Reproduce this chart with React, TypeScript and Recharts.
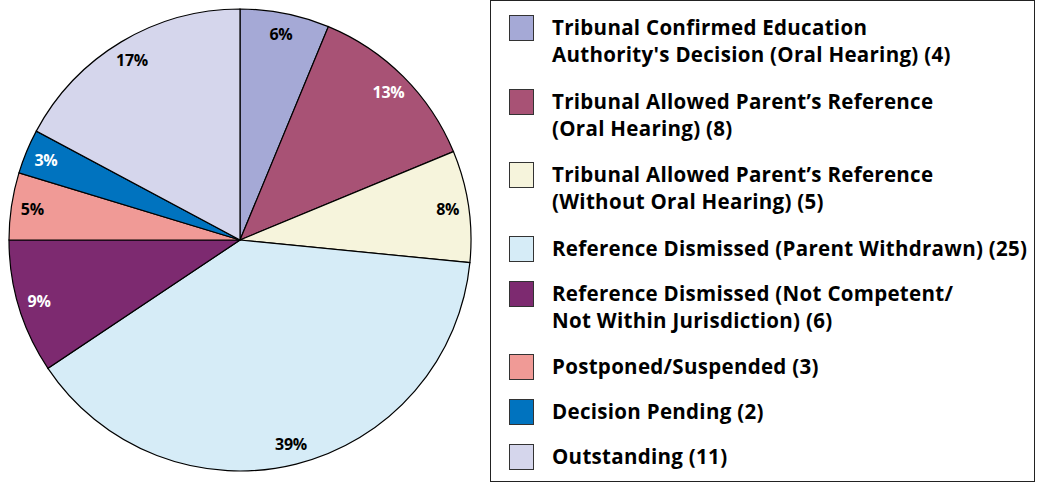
import { PieChart, Pie, Cell, Legend } from 'recharts'

const categories = [
  "Tribunal Confirmed Education Authority's Decision (Oral Hearing)",
  'Tribunal Allowed Parent’s Reference (Oral Hearing)',
  'Tribunal Allowed Parent’s Reference (Without Oral Hearing)',
  'Reference Dismissed (Parent Withdrawn)',
  'Reference Dismissed (Not Competent/ Not Within Jurisdiction)',
  'Postponed/Suspended',
  'Decision Pending',
  'Outstanding',
]

// legend text split into lines as in the original
const legendLines = [
  ['Tribunal Confirmed Education', "Authority's Decision (Oral Hearing) (4)"],
  ['Tribunal Allowed Parent’s Reference', '(Oral Hearing) (8)'],
  ['Tribunal Allowed Parent’s Reference', '(Without Oral Hearing) (5)'],
  ['Reference Dismissed (Parent Withdrawn) (25)'],
  ['Reference Dismissed (Not Competent/', 'Not Within Jurisdiction) (6)'],
  ['Postponed/Suspended (3)'],
  ['Decision Pending (2)'],
  ['Outstanding (11)'],
]

const counts = [4, 8, 5, 25, 6, 3, 2, 11]

const colors = [
  '#a5a9d6',
  '#a85275',
  '#f6f4dc',
  '#d6ecf7',
  '#7d2a70',
  '#f09a96',
  '#0073bf',
  '#d5d6ec',
]

const labelColors = ['#000', '#fff', '#000', '#000', '#fff', '#000', '#fff', '#000']

const data = categories.map((name, i) => ({ name, value: counts[i] }))
const total = counts.reduce((a, b) => a + b, 0)

const FONT = '"Open Sans", "Noto Sans", sans-serif'
const RADIAN = Math.PI / 180

function renderLabel(props: any) {
  const { cx, cy, midAngle, outerRadius, value, index } = props
  const r = outerRadius - 21
  const x = cx + r * Math.cos(-midAngle * RADIAN)
  const y = cy + r * Math.sin(-midAngle * RADIAN)
  return (
    <text
      x={x}
      y={y}
      fill={labelColors[index]}
      textAnchor="middle"
      dominantBaseline="central"
      fontFamily={FONT}
      fontWeight={700}
      fontSize={16}
      letterSpacing={-0.3}
    >
      {Math.round((value / total) * 100)}%
    </text>
  )
}

function LegendBox() {
  return (
    <div
      style={{
        width: 545,
        height: 482,
        border: '1px solid #222',
        boxSizing: 'border-box',
        fontFamily: FONT,
        fontWeight: 700,
        fontSize: 20.5,
        letterSpacing: 0.3,
        color: '#000',
        paddingTop: 14,
        paddingLeft: 18,
        whiteSpace: 'nowrap',
      }}
    >
      {legendLines.map((lines, i) => (
        <div key={i} style={{ display: 'flex', marginBottom: lines.length === 2 ? 20.6 : 18.8 }}>
          <div
            style={{
              width: 25,
              height: 26,
              background: colors[i],
              border: '1px solid #333',
              boxSizing: 'border-box',
              flexShrink: 0,
            }}
          />
          <div style={{ marginLeft: 18, lineHeight: '27px', marginTop: -1 }}>
            {lines.map((l, j) => (
              <div key={j}>{l}</div>
            ))}
          </div>
        </div>
      ))}
    </div>
  )
}

export default function App() {
  return (
    <div style={{ position: 'absolute', left: 0, top: 0, background: '#fff' }}>
      <PieChart width={1037} height={483} margin={{ top: 0, right: 0, bottom: 0, left: 0 }}>
        <Pie
          data={data}
          dataKey="value"
          nameKey="name"
          cx={240}
          cy={240}
          outerRadius={231}
          startAngle={90}
          endAngle={-270}
          stroke="#000"
          strokeWidth={1.2}
          label={renderLabel}
          labelLine={false}
          isAnimationActive={false}
        >
          {data.map((d, i) => (
            <Cell key={d.name} fill={colors[i]} />
          ))}
        </Pie>
        <Legend
          layout="vertical"
          align="right"
          verticalAlign="top"
          wrapperStyle={{ top: 0, left: 490, width: 545 }}
          content={() => <LegendBox />}
        />
      </PieChart>
    </div>
  )
}
